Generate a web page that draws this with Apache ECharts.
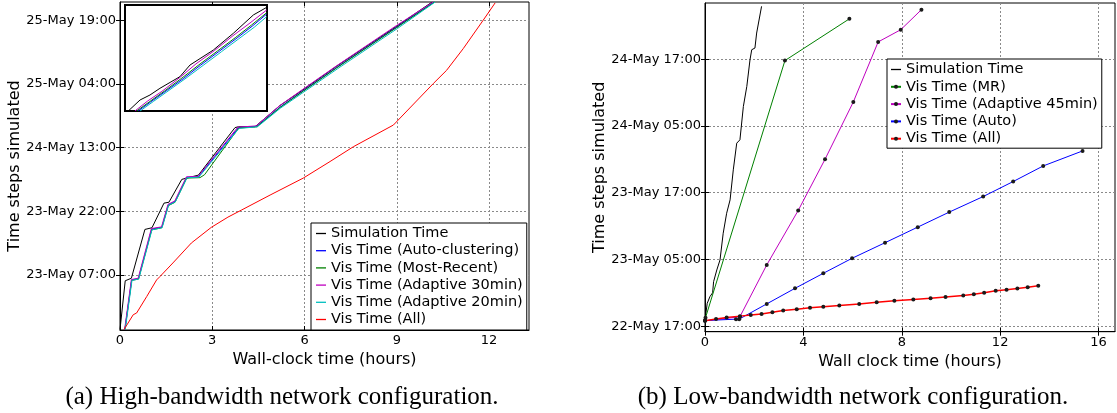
<!DOCTYPE html>
<html>
<head>
<meta charset="utf-8">
<script src="https://cdn.jsdelivr.net/npm/echarts@6/dist/echarts.min.js"></script>
<style>
  html, body { margin: 0; padding: 0; background: #fff; }
  #chart { width: 1117px; height: 413px; }
</style>
</head>
<body>
<div id="chart"></div>
<script>
// y values are hours since 22-May 16:00, x values are wall-clock hours

// (a) high-bandwidth
const simA = [[0, 2.1], [0.17, 13.6], [0.37, 14.2], [0.81, 25.7], [1.04, 26.1], [1.43, 31.9], [1.59, 32.1], [2.01, 37.5], [2.33, 38.1], [2.55, 38.5], [3.74, 49.7], [3.85, 49.9], [4.39, 49.9], [5.2, 54.9], [5.95, 58.6], [7.05, 64.2], [9.0, 73.6], [10.15, 79.3]];
const autoA = [[0.16, 2.1], [0.38, 13.8], [0.6, 14.1], [1.03, 25.8], [1.36, 26.2], [1.57, 31.5], [1.79, 32.3], [2.17, 38.0], [2.55, 38.1], [3.85, 49.7], [4.45, 50.0], [5.2, 54.5], [5.96, 58.4], [7.05, 63.9], [9.0, 73.4], [10.21, 79.3]];
const recentA = [[0.16, 2.1], [0.38, 13.7], [0.6, 14.0], [1.03, 25.6], [1.36, 26.1], [1.57, 31.3], [1.79, 32.1], [2.17, 37.8], [2.6, 37.9], [2.75, 38.6], [3.86, 49.6], [4.45, 49.9], [5.2, 54.4], [5.96, 58.3], [7.05, 63.8], [9.0, 73.3], [10.23, 79.3]];
const adapt30A = [[0.15, 2.1], [0.37, 13.9], [0.59, 14.2], [1.02, 25.9], [1.35, 26.3], [1.56, 31.6], [1.78, 32.4], [2.16, 38.1], [2.54, 38.2], [3.83, 49.8], [4.43, 50.1], [5.18, 54.8], [5.94, 58.7], [7.03, 64.2], [8.98, 73.7], [10.18, 79.3]];
const adapt20A = [[0.17, 2.1], [0.39, 13.7], [0.61, 14.0], [1.04, 25.6], [1.37, 26.1], [1.58, 31.4], [1.8, 32.2], [2.18, 37.9], [2.56, 38.0], [3.87, 49.5], [4.47, 49.9], [5.22, 54.3], [5.98, 58.1], [7.08, 63.6], [9.03, 73.1], [10.25, 79.3]];
const allA = [[0.13, 2.1], [0.43, 5.6], [0.54, 6.0], [0.87, 9.9], [1.19, 13.8], [1.3, 14.6], [1.72, 17.8], [2.32, 22.5], [2.97, 26.2], [3.51, 28.6], [3.96, 30.3], [4.88, 33.8], [5.96, 37.8], [6.83, 41.7], [7.59, 45.2], [8.89, 50.3], [10.19, 60.1], [10.62, 63.2], [11.16, 68.3], [11.81, 75.0], [12.2, 79.1]];

// inset (zoomed detail, unitless)
const insetSim = [[0.23, 0], [1.06, 1.04], [1.76, 1.51], [2.46, 2.14], [3.87, 3.24], [4.58, 4.34], [6.22, 5.75], [7.63, 7.33], [9.04, 9.06], [9.98, 9.78]];
const insetAdapt30 = [[0.7, 0], [1.6, 0.95], [2.6, 1.85], [3.9, 3.2], [5.0, 4.45], [6.3, 5.7], [7.6, 7.1], [8.8, 8.3], [9.98, 9.53]];
const insetRecent = [[0.82, 0], [1.7, 0.85], [2.8, 1.9], [4.0, 3.1], [5.2, 4.35], [6.5, 5.65], [7.8, 6.95], [8.9, 8.1], [9.98, 9.27]];
const insetAuto = [[0.92, 0], [1.8, 0.85], [2.9, 1.9], [4.1, 3.05], [5.3, 4.3], [6.6, 5.6], [7.9, 6.9], [9.0, 8.05], [9.98, 9.15]];
const insetAdapt20 = [[1.06, 0], [2.0, 0.9], [3.1, 1.95], [4.3, 3.1], [5.5, 4.3], [6.8, 5.6], [8.0, 6.8], [9.1, 7.9], [9.98, 8.9]];

// (b) low-bandwidth
const simB = [[0, 2.1], [0.09, 5.1], [0.2, 6.3], [0.31, 7.0], [0.35, 9.0], [0.48, 11.1], [0.61, 12.9], [0.74, 17.7], [0.88, 21.3], [1.02, 23.7], [1.15, 29.1], [1.29, 33.9], [1.42, 34.5], [1.56, 40.5], [1.7, 44.1], [1.83, 48.9], [1.9, 50.7], [2.03, 51.0], [2.1, 53.7], [2.3, 58.5]];
const mrB = [[0.02, 2.5], [3.25, 48.75], [5.87, 56.25]];
const adapt45B = [[0, 1.95], [1.42, 2.7], [2.51, 12.0], [3.79, 21.8], [4.88, 31.0], [6.03, 41.3], [7.04, 52.1], [7.96, 54.3], [8.8, 57.9]];
const autoB = [[0, 2.0], [1.26, 2.26], [1.39, 2.26], [2.51, 5.0], [3.66, 7.8], [4.81, 10.5], [5.98, 13.2], [7.32, 16.0], [8.65, 18.8], [9.93, 21.5], [11.31, 24.3], [12.53, 27.0], [13.75, 29.8], [15.35, 32.5]];
const allB = [[0, 1.95], [0.45, 2.3], [0.88, 2.55], [1.42, 2.8], [1.86, 3.0], [2.3, 3.2], [2.74, 3.5], [3.18, 3.8], [3.73, 4.05], [4.27, 4.3], [4.81, 4.5], [5.46, 4.7], [6.27, 5.0], [6.98, 5.3], [7.7, 5.55], [8.47, 5.8], [9.17, 6.0], [9.78, 6.25], [10.5, 6.5], [10.93, 6.75], [11.35, 7.0], [11.82, 7.35], [12.26, 7.55], [12.7, 7.75], [13.12, 8.0], [13.55, 8.25]];

// tick positions
const xTicksA = [0, 3, 6, 9, 12];
const yTicksA = [15, 30, 45, 60, 75];
const xTicksB = [0, 4, 8, 12, 16];
const yTicksB = [1, 13, 25, 37, 49];

const legendA = ['Simulation Time', 'Vis Time (Auto-clustering)', 'Vis Time (Most-Recent)', 'Vis Time (Adaptive 30min)', 'Vis Time (Adaptive 20min)', 'Vis Time (All)'];
const legendB = ['Simulation Time ', 'Vis Time (MR)', 'Vis Time (Adaptive 45min)', 'Vis Time (Auto)', 'Vis Time (All) '];

const FONT = 'DejaVu Sans';
const DASH_ICON = 'path://M0,0 L10,0 L10,1.3 L0,1.3 Z';

const stampLabel = (t) => {
  const h = 16 + t;
  const day = 22 + Math.floor(h / 24);
  const hh = String(h % 24).padStart(2, '0');
  return `${day}-May ${hh}:00`;
};

const splitStyle = { show: true, lineStyle: { color: '#8a8a8a', type: [2, 2], width: 1 } };

const mainAxis = (dim, gridIndex, min, max, ticks, name, nameGap, formatter) => ({
  type: 'value',
  gridIndex,
  min,
  max,
  position: dim === 'x' ? 'bottom' : 'left',
  name,
  nameLocation: 'middle',
  nameGap,
  nameTextStyle: { fontFamily: FONT, fontSize: 16, color: '#000' },
  axisLine: { show: true, lineStyle: { color: '#000', width: 1 } },
  axisTick: { show: true, inside: true, length: 4, customValues: ticks, lineStyle: { color: '#000' } },
  axisLabel: {
    customValues: ticks,
    margin: 4,
    fontFamily: FONT,
    fontSize: 13,
    color: '#000',
    formatter,
  },
  splitLine: splitStyle,
});

const sideAxis = (dim, gridIndex, min, max, ticks) => ({
  type: 'value',
  gridIndex,
  min,
  max,
  position: dim === 'x' ? 'top' : 'right',
  axisLine: { show: false },
  axisTick: { show: true, inside: true, length: 4, customValues: ticks, lineStyle: { color: '#000' } },
  axisLabel: { show: false },
  splitLine: { show: false },
});

const insetAxis = () => ({
  type: 'value', gridIndex: 2, min: 0, max: 10, show: false, z: 4,
});

const line = (name, data, color, xi, yi, extra) => Object.assign({
  name,
  type: 'line',
  data,
  xAxisIndex: xi,
  yAxisIndex: yi,
  showSymbol: false,
  symbol: 'none',
  lineStyle: { color, width: 1 },
  itemStyle: { color },
  animation: false,
}, extra || {});

const dotted = (name, data, color, width) => line(name, data, color, 2, 2, {
  symbol: 'circle',
  symbolSize: 4,
  showSymbol: true,
  lineStyle: { color, width: width || 1 },
  itemStyle: { color: '#1a1a1a', borderWidth: 0 },
});

const inset = (data, color) => line('', data, color, 4, 4, { z: 5, silent: true });

const chart = echarts.init(document.getElementById('chart'), null, { renderer: 'canvas' });
chart.setOption({
  animation: false,
  backgroundColor: '#fff',
  grid: [
    { left: 120, top: 2, width: 409, height: 328, show: true, borderColor: '#000', borderWidth: 1, backgroundColor: 'transparent' },
    { left: 705, top: 3, width: 410, height: 328.7, show: true, borderColor: '#000', borderWidth: 1, backgroundColor: 'transparent' },
    { left: 125, top: 5, width: 142, height: 106, show: true, borderColor: '#000', borderWidth: 2, backgroundColor: '#fff', z: 3 },
  ],
  xAxis: [
    mainAxis('x', 0, 0, 13.3, xTicksA, 'Wall-clock time (hours)', 14, (v) => String(v)),
    sideAxis('x', 0, 0, 13.3, xTicksA),
    mainAxis('x', 1, 0, 16.67, xTicksB, 'Wall clock time (hours)', 12, (v) => String(v)),
    sideAxis('x', 1, 0, 16.67, xTicksB),
    insetAxis(),
  ],
  yAxis: [
    mainAxis('y', 0, 2, 79.3, yTicksA, 'Time steps simulated', 85, stampLabel),
    sideAxis('y', 0, 2, 79.3, yTicksA),
    mainAxis('y', 1, 0, 59.1, yTicksB, 'Time steps simulated', 87, stampLabel),
    sideAxis('y', 1, 0, 59.1, yTicksB),
    insetAxis(),
  ],
  legend: [
    {
      data: legendA.map((name) => ({ name, icon: DASH_ICON })),
      orient: 'vertical',
      left: 311,
      top: 223,
      itemWidth: 10,
      itemHeight: 8,
      itemGap: 2.2,
      padding: [3, 4, 3, 5],
      borderColor: '#000',
      borderWidth: 1,
      backgroundColor: '#fff',
      selectedMode: false,
      textStyle: { fontFamily: FONT, fontSize: 14.5, color: '#000' },
    },
    {
      data: legendB.map((name, i) => (i === 0 ? { name, icon: DASH_ICON } : name)),
      orient: 'vertical',
      left: 887,
      top: 59,
      itemWidth: 10,
      itemHeight: 5,
      itemGap: 2.3,
      padding: [3, 4, 2, 3],
      borderColor: '#000',
      borderWidth: 1,
      backgroundColor: '#fff',
      selectedMode: false,
      textStyle: { fontFamily: FONT, fontSize: 14.5, color: '#000' },
    },
  ],
  graphic: [
    {
      type: 'text', x: 282, y: 397, silent: true,
      style: { text: '(a) High-bandwidth network configuration.', align: 'center', verticalAlign: 'middle', textAlign: 'center', textVerticalAlign: 'middle', font: '25px "Liberation Serif"', fill: '#000' },
    },
    {
      type: 'text', x: 853, y: 397, silent: true,
      style: { text: '(b) Low-bandwidth network configuration.', align: 'center', verticalAlign: 'middle', textAlign: 'center', textVerticalAlign: 'middle', font: '25px "Liberation Serif"', fill: '#000' },
    },
  ],
  series: [
    line('Simulation Time', simA, '#000000', 0, 0),
    line('Vis Time (Auto-clustering)', autoA, '#0000ff', 0, 0),
    line('Vis Time (Most-Recent)', recentA, '#008000', 0, 0),
    line('Vis Time (Adaptive 30min)', adapt30A, '#bf00bf', 0, 0),
    line('Vis Time (Adaptive 20min)', adapt20A, '#00bfbf', 0, 0),
    line('Vis Time (All)', allA, '#ff0000', 0, 0),

    inset(insetSim, '#000000'),
    inset(insetAuto, '#0000ff'),
    inset(insetRecent, '#008000'),
    inset(insetAdapt30, '#bf00bf'),
    inset(insetAdapt20, '#00bfbf'),

    line('Simulation Time ', simB, '#000000', 2, 2),
    dotted('Vis Time (MR)', mrB, '#008000'),
    dotted('Vis Time (Adaptive 45min)', adapt45B, '#bf00bf'),
    dotted('Vis Time (Auto)', autoB, '#0000ff'),
    dotted('Vis Time (All) ', allB, '#ff0000', 1.5),
  ],
});
</script>
</body>
</html>
